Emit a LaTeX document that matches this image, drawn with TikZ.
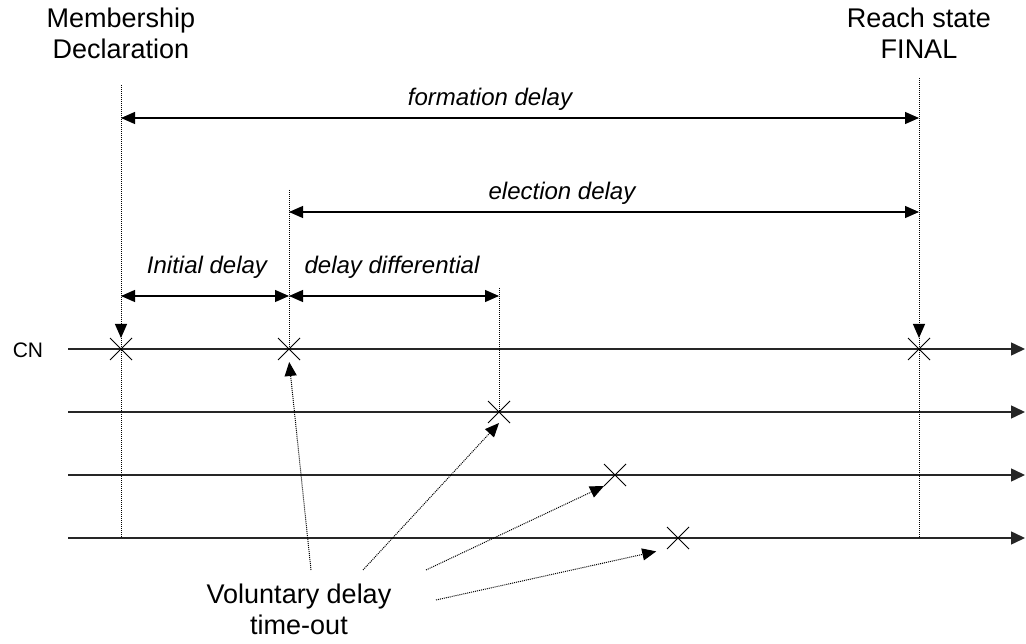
\documentclass[tikz,border=0pt]{standalone}
\usepackage{fontspec}
\setmainfont{Liberation Sans}
\usetikzlibrary{arrows.meta,shapes.misc}
\begin{document}
\begin{tikzpicture}[x=1pt,y=-1pt,
  timeline/.style={line width=1.5pt,draw=black!85,-{Triangle[length=14pt,width=13pt]}},
  guide/.style={line width=1pt,dash pattern=on 1pt off 1pt},
  pointer/.style={guide,-{Triangle[length=14pt,width=12pt]}},
  span/.style={line width=1.2pt,{Triangle[length=14pt,width=12pt]}-{Triangle[length=14pt,width=12pt]}},
  event/.style={cross out,draw,line width=1pt,minimum size=21pt,inner sep=0pt},
  heading/.style={align=center,font=\fontsize{27}{31}\selectfont},
  spanlabel/.style={font=\fontsize{24}{28}\selectfont\itshape},
  rowlabel/.style={font=\fontsize{21}{25}\selectfont}
]
\useasboundingbox (0,0) rectangle (1026,644);

% headings
\node[heading] (decl) at (121,33) {Membership\\Declaration};
\node[heading] (final) at (919,33) {Reach state\\FINAL};
\node[heading] (vol) at (299,609) {Voluntary delay\\time-out};
\node[rowlabel] (cn) at (28,350) {CN};

% time lines
\foreach \i/\y in {1/349,2/412,3/475,4/538}{
  \coordinate (s\i) at (68,\y);
  \coordinate (e\i) at (1025,\y);
  \draw[timeline] (s\i) -- (e\i);
}

% events on the lines
\node[event] (x1) at (121,349) {};
\node[event] (x2) at (289,349) {};
\node[event] (xf) at (919,349) {};
\node[event] (x3) at (499,412) {};
\node[event] (x4) at (615,475) {};
\node[event] (x5) at (678,538) {};

% vertical guides
\coordinate (g1) at (121,85);
\coordinate (g1b) at (121,538);
\coordinate (g2) at (289,190);
\coordinate (g3) at (499,288);
\coordinate (gf) at (919,78);
\coordinate (gfb) at (919,538);
\draw[pointer] (g1) -- (x1.north);
\draw[guide] (x1.north) -- (g1b);
\draw[guide] (g2) -- (x2.center);
\draw[guide] (g3) -- (x3.center);
\draw[pointer] (gf) -- (xf.north);
\draw[guide] (xf.north) -- (gfb);

% delay spans
\coordinate (f1) at (121,118);
\coordinate (f2) at (919,118);
\coordinate (el1) at (289,212);
\coordinate (el2) at (919,212);
\coordinate (i1) at (121,296);
\coordinate (i2) at (289,296);
\coordinate (d2) at (499,296);
\draw[span] (f1) -- (f2);
\draw[span] (el1) -- (el2);
\draw[span] (i1) -- (i2);
\draw[span] (i2) -- (d2);
\node[spanlabel] (lf) at (490,99) {formation delay};
\node[spanlabel] (le) at (562,193) {election delay};
\node[spanlabel] (li) at (207,267) {Initial delay};
\node[spanlabel] (ld) at (392,267) {delay differential};

% time-out pointers
\coordinate (v1) at (311,570);
\coordinate (v2) at (363,570);
\coordinate (v3) at (426,570);
\coordinate (v4) at (436,600);
\draw[pointer,shorten >=2pt] (v1) -- (x2.south);
\draw[pointer] (v2) -- (x3.south);
\draw[pointer] (v3) -- (x4.south west);
\draw[pointer,shorten >=11pt] (v4) -- (x5.south west);
\end{tikzpicture}
\end{document}
